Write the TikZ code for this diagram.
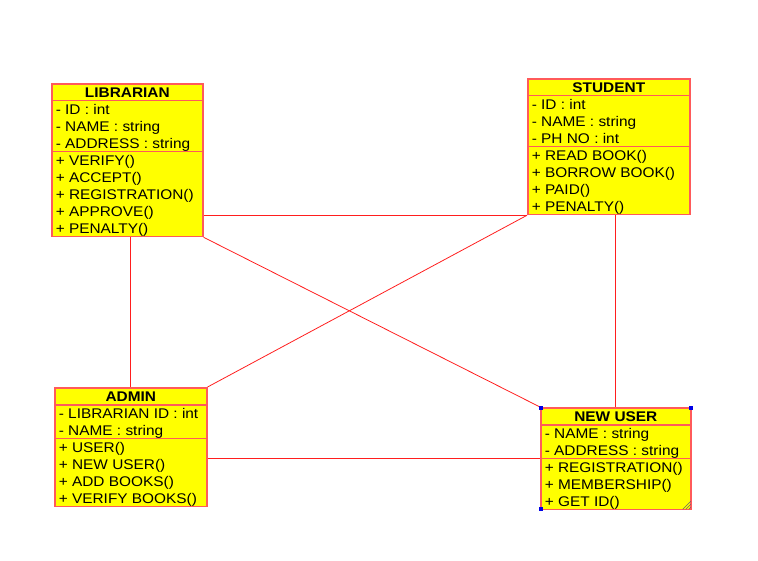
\documentclass[tikz,border=0pt]{standalone}
\usepackage{fontspec}
\setmainfont{Liberation Sans}[FakeStretch=1.1]
\usetikzlibrary{calc, positioning, shapes.multipart}
\definecolor{classfill}{RGB}{255,255,0}
\definecolor{classedge}{RGB}{255,90,90}
\definecolor{assocline}{RGB}{255,30,30}
\definecolor{handleblue}{RGB}{0,0,230}
\newcommand{\rowstrut}{\rule[-3.2pt]{0pt}{17pt}}

\tikzset{
    umlclass/.style={rectangle split, rectangle split parts=3, draw=classedge, line width=1.6pt,
        fill=classfill, inner xsep=4pt, inner ysep=-0.85pt, anchor=north west,
        align=left, rectangle split part align={center, left, left},
        font=\fontsize{14}{17}\selectfont},
    assoc/.style={assocline, line width=0.8pt},
    handle/.style={fill=handleblue, minimum size=4pt, inner sep=0pt}
}

\begin{document}
\begin{tikzpicture}[x=1pt, y=-1pt]
    \useasboundingbox (0,0) rectangle (758,561);
    
    % classes
    \node[umlclass, minimum width=151pt] (lib) at (51,83) {%
        \rowstrut\textbf{LIBRARIAN}
        \nodepart{two}\rowstrut- ID : int\\\rowstrut- NAME : string\\\rowstrut- ADDRESS : string
        \nodepart{three}\rowstrut+ VERIFY()\\\rowstrut+ ACCEPT()\\\rowstrut+ REGISTRATION()\\\rowstrut+ APPROVE()\\\rowstrut+ PENALTY()};
    \node[umlclass, minimum width=162pt] (stu) at (527,78) {%
        \rowstrut\textbf{STUDENT}
        \nodepart{two}\rowstrut- ID : int\\\rowstrut- NAME : string\\\rowstrut- PH NO : int
        \nodepart{three}\rowstrut+ READ BOOK()\\\rowstrut+ BORROW BOOK()\\\rowstrut+ PAID()\\\rowstrut+ PENALTY()};
    \node[umlclass, minimum width=152pt] (adm) at (54,387) {%
        \rowstrut\textbf{ADMIN}
        \nodepart{two}\rowstrut- LIBRARIAN ID : int\\\rowstrut- NAME : string
        \nodepart{three}\rowstrut+ USER()\\\rowstrut+ NEW USER()\\\rowstrut+ ADD BOOKS()\\\rowstrut+ VERIFY BOOKS()};
    \node[umlclass, minimum width=150pt] (nu) at (540,407) {%
        \rowstrut\textbf{NEW USER}
        \nodepart{two}\rowstrut- NAME : string\\\rowstrut- ADDRESS : string
        \nodepart{three}\rowstrut+ REGISTRATION()\\\rowstrut+ MEMBERSHIP()\\\rowstrut+ GET ID()};
    
    % associations
    \draw[assoc] (stu.south west) -- (stu.south west -| lib.east);
    \draw[assoc] (adm.north) -- (adm.north |- lib.south);
    \draw[assoc] (lib.south east) -- (nu.north west);
    \draw[assoc] (stu.south west) -- (adm.north east);
    \draw[assoc] (nu.north) -- (nu.north |- stu.south);
    \draw[assoc] (nu.two split west) -- (nu.two split west -| adm.east);
    
    % selection handles
    \node[handle] (h1) at ($(nu.north west)+(1,1)$) {};
    \node[handle] (h2) at ($(nu.north east)+(-1,1)$) {};
    \node[handle] (h3) at ($(nu.south west)+(1,-1)$) {};
    \foreach \d in {3,6,9}
        \draw[black!60, line width=0.5pt] ($(nu.south east)+(-\d,-1)$) -- ($(nu.south east)+(-1,-\d)$);
\end{tikzpicture}
\end{document}
